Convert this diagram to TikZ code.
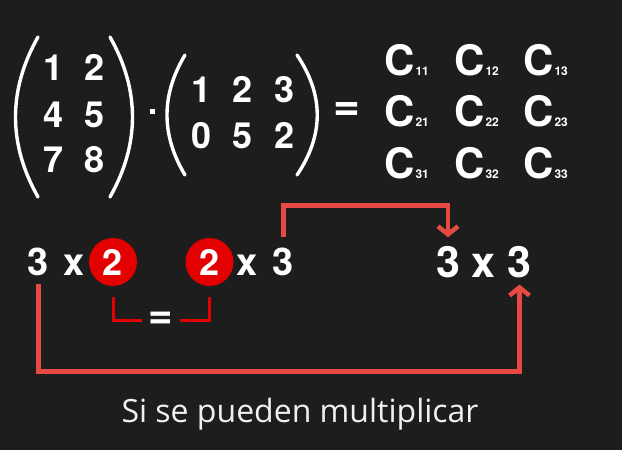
\documentclass[tikz,border=0pt]{standalone}
\usepackage{fontspec}
\setmainfont{TeX Gyre Heros}
\newfontfamily\capfont{Open Sans}
\usetikzlibrary{positioning,arrows.meta}

\definecolor{board}{RGB}{29,29,29}
\definecolor{linkred}{RGB}{230,74,66}
\definecolor{dotred}{RGB}{226,0,0}
\newcommand{\fsz}[1]{\fontsize{#1}{#1}\selectfont}

\begin{document}
\begin{tikzpicture}[x=1pt,y=-1pt,
    num/.style={text=white,font=\fsz{36}\bfseries,inner sep=0pt,anchor=base},
    dim/.style={text=white,font=\fsz{38}\bfseries,inner sep=0pt,anchor=base},
    res/.style={text=white,font=\fsz{43}\bfseries,inner sep=0pt,anchor=base},
    cell/.style={text=white,font=\bfseries,inner sep=0pt,anchor=base west},
    paren/.style={draw=white,line width=3.4pt,line cap=round},
    chip/.style={circle,fill=dotred,minimum size=48pt,inner sep=0pt,text=white,font=\fsz{36}\bfseries},
    conn/.style={draw=linkred,line width=4.5pt,-{Straight Barb[length=8pt,width=20pt]}},
    brk/.style={draw=dotred,line width=3pt}]

\useasboundingbox (0,0) rectangle (622,450);
\fill[board] (0,0) rectangle (622,450);

% first matrix
\foreach \n/\x/\y/\v in {11/54/80/1, 12/95/80/2, 21/54/127/4, 22/95/127/5, 31/54/172/7, 32/95/172/8} {
    \node[num] (a\n) at (\x,\y) {\v};
}
\draw[paren] (38,37) .. controls (8,90) and (8,144) .. (38,197);
\draw[paren] (110,37) .. controls (140,90) and (140,144) .. (110,197);

\node[fill=white,minimum size=5pt,inner sep=0pt] (dot) at (152.5,111) {};

% second matrix
\foreach \n/\x/\y/\v in {11/202/102/1, 12/243/102/2, 13/285/102/3, 21/202/148/0, 22/243/148/5, 23/285/148/2} {
    \node[num] (b\n) at (\x,\y) {\v};
}
\draw[paren] (185,55) .. controls (161,95) and (161,135) .. (185,175);
\draw[paren] (297,55) .. controls (324,95) and (324,135) .. (297,175);

\node[text=white,font=\fsz{46}\bfseries,inner sep=0pt] (equal) at (347,112) {=};

% result entries
\foreach \r/\y in {1/75, 2/126, 3/178} {
    \foreach \c/\x in {1/384, 2/454, 3/523} {
        \node[cell] (c\r\c) at (\x,\y) {{\fsz{42}C}\hspace{1pt}{\fsz{12}\r\c}};
    }
}

% sizes
\node[dim] (a3) at (38.5,275) {3};
\node[dim] (ax) at (74,275) {x};
\node[chip] (ca) at (113,262) {2};
\node[chip] (cb) at (209.5,262) {2};
\node[dim] (bx) at (247,275) {x};
\node[dim] (b3) at (283.5,275) {3};

\node[res] (r3) at (448,277) {3};
\node[res] (rx) at (483,277) {x};
\node[res] (s3) at (519.5,277) {3};

\node[text=white,font=\fsz{42}\bfseries,inner sep=0pt] (same) at (161,320) {=};
\draw[brk,shorten >=7pt] (ca.south) ++(0,11) |- (same.west);
\draw[brk,shorten >=7pt] (cb.south) ++(0,11) |- (same.east);

\draw[conn,shorten >=8.5pt] (b3.north) ++(0,-10) -- ++(0,-32) -| (r3.north);
\draw[conn,shorten >=7pt] (a3.south) ++(0,8) -- ++(0,88) -| (s3.south);

\node[font=\capfont\fsz{32},text=gray!12,inner sep=0pt,anchor=base] (caption) at (300,422) {Si se pueden multiplicar};
\end{tikzpicture}
\end{document}
